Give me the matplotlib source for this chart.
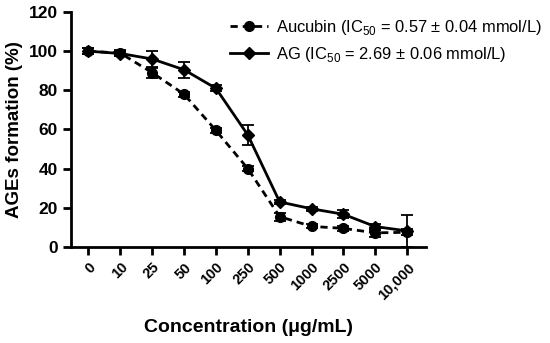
import matplotlib
matplotlib.use("Agg")
import matplotlib.pyplot as plt
from matplotlib.lines import Line2D
import numpy as np

plt.rcParams['font.family'] = ['Liberation Sans', 'DejaVu Sans']
plt.rcParams['mathtext.fontset'] = 'custom'
plt.rcParams['mathtext.rm'] = 'Liberation Sans'

categories = ["0", "10", "25", "50", "100", "250", "500", "1000", "2500", "5000", "10,000"]
aucubin = [100, 99, 89, 78, 59.5, 40, 15.5, 10.5, 9.5, 7.2, 7.5]
aucubin_err = [1.5, 1.5, 2.5, 1.2, 1.2, 1.2, 2.0, 1.0, 1.2, 2.0, 1.5]
ag = [100, 98.8, 96, 90.5, 81, 57.2, 23, 19.5, 16.7, 10.4, 8.2]
ag_err = [1.5, 1.5, 4.3, 4.0, 1.5, 5.3, 1.2, 1.0, 2.0, 1.5, 8.2]
labels = ['Aucubin (IC$_{50}$ = 0.57 ± 0.04 mmol/L)', 'AG (IC$_{50}$ = 2.69 ± 0.06 mmol/L)']

fig = plt.figure(figsize=(5.5, 3.43), dpi=100)
ax = fig.add_axes([0.129, 0.28, 0.646, 0.685])
x = np.arange(len(categories))

dash = (2.6, 1.8)
ax.errorbar(x, aucubin, yerr=aucubin_err, color='black', linestyle='--', linewidth=2,
            marker='o', markersize=7, capsize=4, elinewidth=1.3, capthick=1.3,
            dashes=dash)
ax.errorbar(x, ag, yerr=ag_err, color='black', linestyle='-', linewidth=2,
            marker='D', markersize=6.5, capsize=4, elinewidth=1.3, capthick=1.3)

ax.set_xlim(-0.55, 10.6)
ax.set_ylim(0, 120)
ax.set_yticks([0, 20, 40, 60, 80, 100, 120])
ax.set_xticks(x)
ax.set_xticklabels(categories, rotation=45, ha='right', rotation_mode='anchor',
                   fontsize=10.5, fontweight='bold')
for lab in ax.get_yticklabels():
    lab.set_fontweight('bold')
    lab.set_fontsize(12.5)
ax.spines['top'].set_visible(False)
ax.spines['right'].set_visible(False)
ax.spines['left'].set_linewidth(2)
ax.spines['bottom'].set_linewidth(2)
ax.tick_params(axis='both', direction='out', width=2, length=6)
ax.set_ylabel('AGEs formation (%)', fontsize=13.5, fontweight='bold')
ax.set_xlabel('Concentration (μg/mL)', fontsize=14, fontweight='bold', labelpad=12)

handles = [Line2D([], [], color='black', linestyle='--', dashes=dash, linewidth=2,
                  marker='o', markersize=7),
           Line2D([], [], color='black', linestyle='-', linewidth=2,
                  marker='D', markersize=6.5)]
fig.legend(handles, labels, loc='upper left', bbox_to_anchor=(0.406, 0.966), frameon=False,
           fontsize=11.9, handlelength=2.3, handletextpad=0.5, labelspacing=0.45,
           borderaxespad=0)
fig.savefig('out.png', dpi=100)
